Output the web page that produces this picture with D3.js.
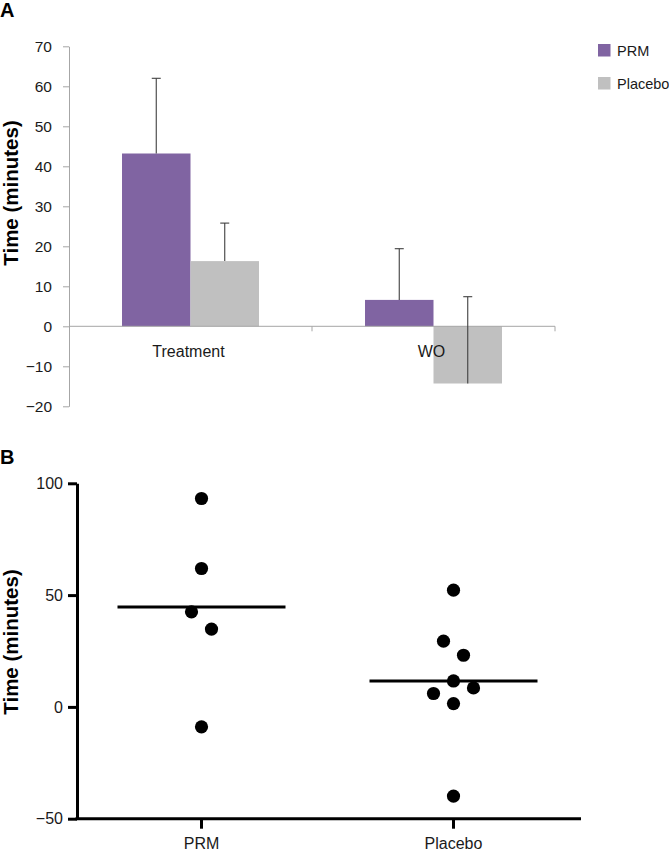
<!DOCTYPE html>
<html>
<head>
<meta charset="utf-8">
<script src="https://cdn.jsdelivr.net/npm/d3@7"></script>
<style>
  html, body { margin: 0; padding: 0; background: #fff; }
  svg { display: block; }
  text { font-family: "Liberation Sans", Arial, Helvetica, sans-serif; }
</style>
</head>
<body>
<svg id="chart" width="669" height="853"></svg>
<script>
// ---------- Panel A data ----------
const categoriesA = ["Treatment", "WO"];
const seriesA = ["PRM", "Placebo"];
const prmMeans = [43.2, 6.6];
const prmErrors = [18.8, 12.8];
const placeboMeans = [16.3, -14.3];
const placeboErrors = [9.5, 21.7];
const yTicksA = [-20, -10, 0, 10, 20, 30, 40, 50, 60, 70];

// ---------- Panel B data ----------
const groupsB = ["PRM", "Placebo"];
const prmPoints = [93.2, 61.9, 42.5, 34.8, -8.9];
const placeboPoints = [52.2, 29.4, 23.1, 11.6, 8.5, 6.0, 1.5, -39.9];
const yTicksB = [-50, 0, 50, 100];

const colors = { PRM: "#8064A2", Placebo: "#C0C0C0" };
const svg = d3.select("#chart");
const font = "\"Liberation Sans\", Arial, sans-serif";

// ================= PANEL A =================
const A = { left: 69, right: 555, top: 46.3, bottom: 406.3 };
const yA = d3.scaleLinear().domain([-20, 70]).range([A.bottom, A.top]);
const xA = d3.scaleBand().domain(categoriesA).range([A.left, A.right]).padding(0);
const xSubA = d3.scaleBand().domain(seriesA).range([0, xA.bandwidth()]).paddingInner(0).paddingOuter(0.774);

svg.append("text").attr("x", 0).attr("y", 17).attr("font-size", 20).attr("font-weight", "bold").text("A");

const axisGrey = "#A6A6A6";
const gA = svg.append("g");
// y axis
const yAxisA = d3.axisLeft(yA).tickValues(yTicksA).tickSize(6).tickPadding(11).tickSizeOuter(0);
const gyA = gA.append("g").attr("transform", `translate(${A.left},0)`).call(yAxisA);
gyA.select(".domain").attr("stroke", axisGrey);
gyA.selectAll(".tick line").attr("stroke", axisGrey);
gyA.selectAll(".tick text").attr("font-size", 15.5).attr("fill", "#1a1a1a").attr("font-family", font);

const dataA = categoriesA.map((c, i) => ({
  cat: c,
  values: [
    { s: "PRM", v: prmMeans[i], e: prmErrors[i] },
    { s: "Placebo", v: placeboMeans[i], e: placeboErrors[i] }
  ]
}));

// bars
const barsG = gA.append("g");
dataA.forEach(d => {
  d.values.forEach(b => {
    const x0 = xA(d.cat) + xSubA(b.s);
    barsG.append("rect")
      .attr("x", x0).attr("width", xSubA.bandwidth())
      .attr("y", yA(Math.max(0, b.v)))
      .attr("height", Math.abs(yA(b.v) - yA(0)))
      .attr("fill", colors[b.s]);
  });
});

// x axis line at zero
gA.append("line").attr("x1", A.left).attr("x2", A.right).attr("y1", yA(0)).attr("y2", yA(0))
  .attr("stroke", axisGrey).attr("stroke-width", 1);
categoriesA.forEach((c, i) => {
  const xt = xA(c) + xA.bandwidth();
  gA.append("line").attr("x1", xt).attr("x2", xt).attr("y1", yA(0)).attr("y2", yA(0) + 5)
    .attr("stroke", axisGrey);
});

// error bars
dataA.forEach(d => {
  d.values.forEach(b => {
    const cx = xA(d.cat) + xSubA(b.s) + xSubA.bandwidth() / 2;
    const yTop = yA(b.v + b.e);
    gA.append("line").attr("x1", cx).attr("x2", cx).attr("y1", yA(b.v)).attr("y2", yTop)
      .attr("stroke", "#404040").attr("stroke-width", 1.1);
    gA.append("line").attr("x1", cx - 4.5).attr("x2", cx + 4.5).attr("y1", yTop).attr("y2", yTop)
      .attr("stroke", "#404040").attr("stroke-width", 1.1);
  });
});

// category labels
categoriesA.forEach(c => {
  gA.append("text").attr("x", xA(c) + xA.bandwidth() / 2 - 2).attr("y", yA(0) + 30.5)
    .attr("text-anchor", "middle").attr("font-size", 16).attr("fill", "#1a1a1a").text(c);
});

// y label
svg.append("text").attr("transform", `translate(18,193) rotate(-90)`)
  .attr("text-anchor", "middle").attr("font-size", 20.5).attr("font-weight", "bold").text("Time (minutes)");

// legend
seriesA.forEach((s, i) => {
  const ly = 44 + i * 33;
  svg.append("rect").attr("x", 598).attr("y", ly).attr("width", 12.5).attr("height", 12.5).attr("fill", colors[s]);
  svg.append("text").attr("x", 617).attr("y", ly + 11.5).attr("font-size", 14.5).attr("fill", "#1a1a1a").text(s);
});

// ================= PANEL B =================
const B = { left: 77, right: 581, top: 483.3, bottom: 818.7 };
const yB = d3.scaleLinear().domain([-50, 100]).range([B.bottom, B.top]);
const xB = d3.scaleBand().domain(groupsB).range([75.5, 579.5]).padding(0);

svg.append("text").attr("x", 0).attr("y", 464).attr("font-size", 20).attr("font-weight", "bold").text("B");

const gB = svg.append("g");
const yAxisB = d3.axisLeft(yB).tickValues(yTicksB).tickSize(9).tickPadding(5).tickSizeOuter(0).tickFormat(d3.format("d"));
const gyB = gB.append("g").attr("transform", `translate(${B.left},0)`).call(yAxisB);
gyB.select(".domain").attr("stroke", "#000").attr("stroke-width", 3);
gyB.selectAll(".tick line").attr("stroke", "#000").attr("stroke-width", 3);
gyB.selectAll(".tick text").attr("font-size", 16).attr("fill", "#1a1a1a").attr("font-family", font);

// x axis
gB.append("line").attr("x1", B.left - 1.5).attr("x2", B.right).attr("y1", B.bottom).attr("y2", B.bottom)
  .attr("stroke", "#000").attr("stroke-width", 3);
groupsB.forEach(g => {
  const cx = xB(g) + xB.bandwidth() / 2;
  gB.append("line").attr("x1", cx).attr("x2", cx).attr("y1", B.bottom).attr("y2", B.bottom + 10)
    .attr("stroke", "#000").attr("stroke-width", 3);
  gB.append("text").attr("x", cx).attr("y", 849).attr("text-anchor", "middle")
    .attr("font-size", 16).attr("fill", "#1a1a1a").text(g);
});

svg.append("text").attr("transform", `translate(18,642) rotate(-90)`)
  .attr("text-anchor", "middle").attr("font-size", 20.5).attr("font-weight", "bold").text("Time (minutes)");

// column scatter: points in the same value bin are spread horizontally
const binStep = 13.4, binAnchor = 3.0, spread = 20;
function spreadOffsets(values) {
  const bins = d3.group(values.map((v, i) => ({ v, i })), d => Math.floor((d.v - binAnchor) / binStep));
  const off = new Array(values.length).fill(0);
  for (const [, pts] of bins) {
    pts.sort((a, b) => b.v - a.v);
    const n = pts.length;
    pts.forEach((p, k) => {
      let o;
      if (n % 2 === 1) {
        o = k === 0 ? 0 : (k % 2 === 1 ? 1 : -1) * Math.ceil(k / 2);
      } else {
        o = (k % 2 === 0 ? -1 : 1) * (Math.floor(k / 2) + 0.5);
      }
      off[p.i] = o * spread;
    });
  }
  return off;
}

const pointsB = { PRM: prmPoints, Placebo: placeboPoints };
groupsB.forEach(g => {
  const vals = pointsB[g];
  const cx = xB(g) + xB.bandwidth() / 2;
  const offs = spreadOffsets(vals);
  gB.selectAll(null).data(vals).enter().append("circle")
    .attr("cx", (d, i) => cx + offs[i]).attr("cy", d => yB(d)).attr("r", 6.6).attr("fill", "#000");
  const m = d3.mean(vals);
  gB.append("line").attr("x1", cx - 84).attr("x2", cx + 84).attr("y1", yB(m)).attr("y2", yB(m))
    .attr("stroke", "#000").attr("stroke-width", 3);
});
</script>
</body>
</html>
